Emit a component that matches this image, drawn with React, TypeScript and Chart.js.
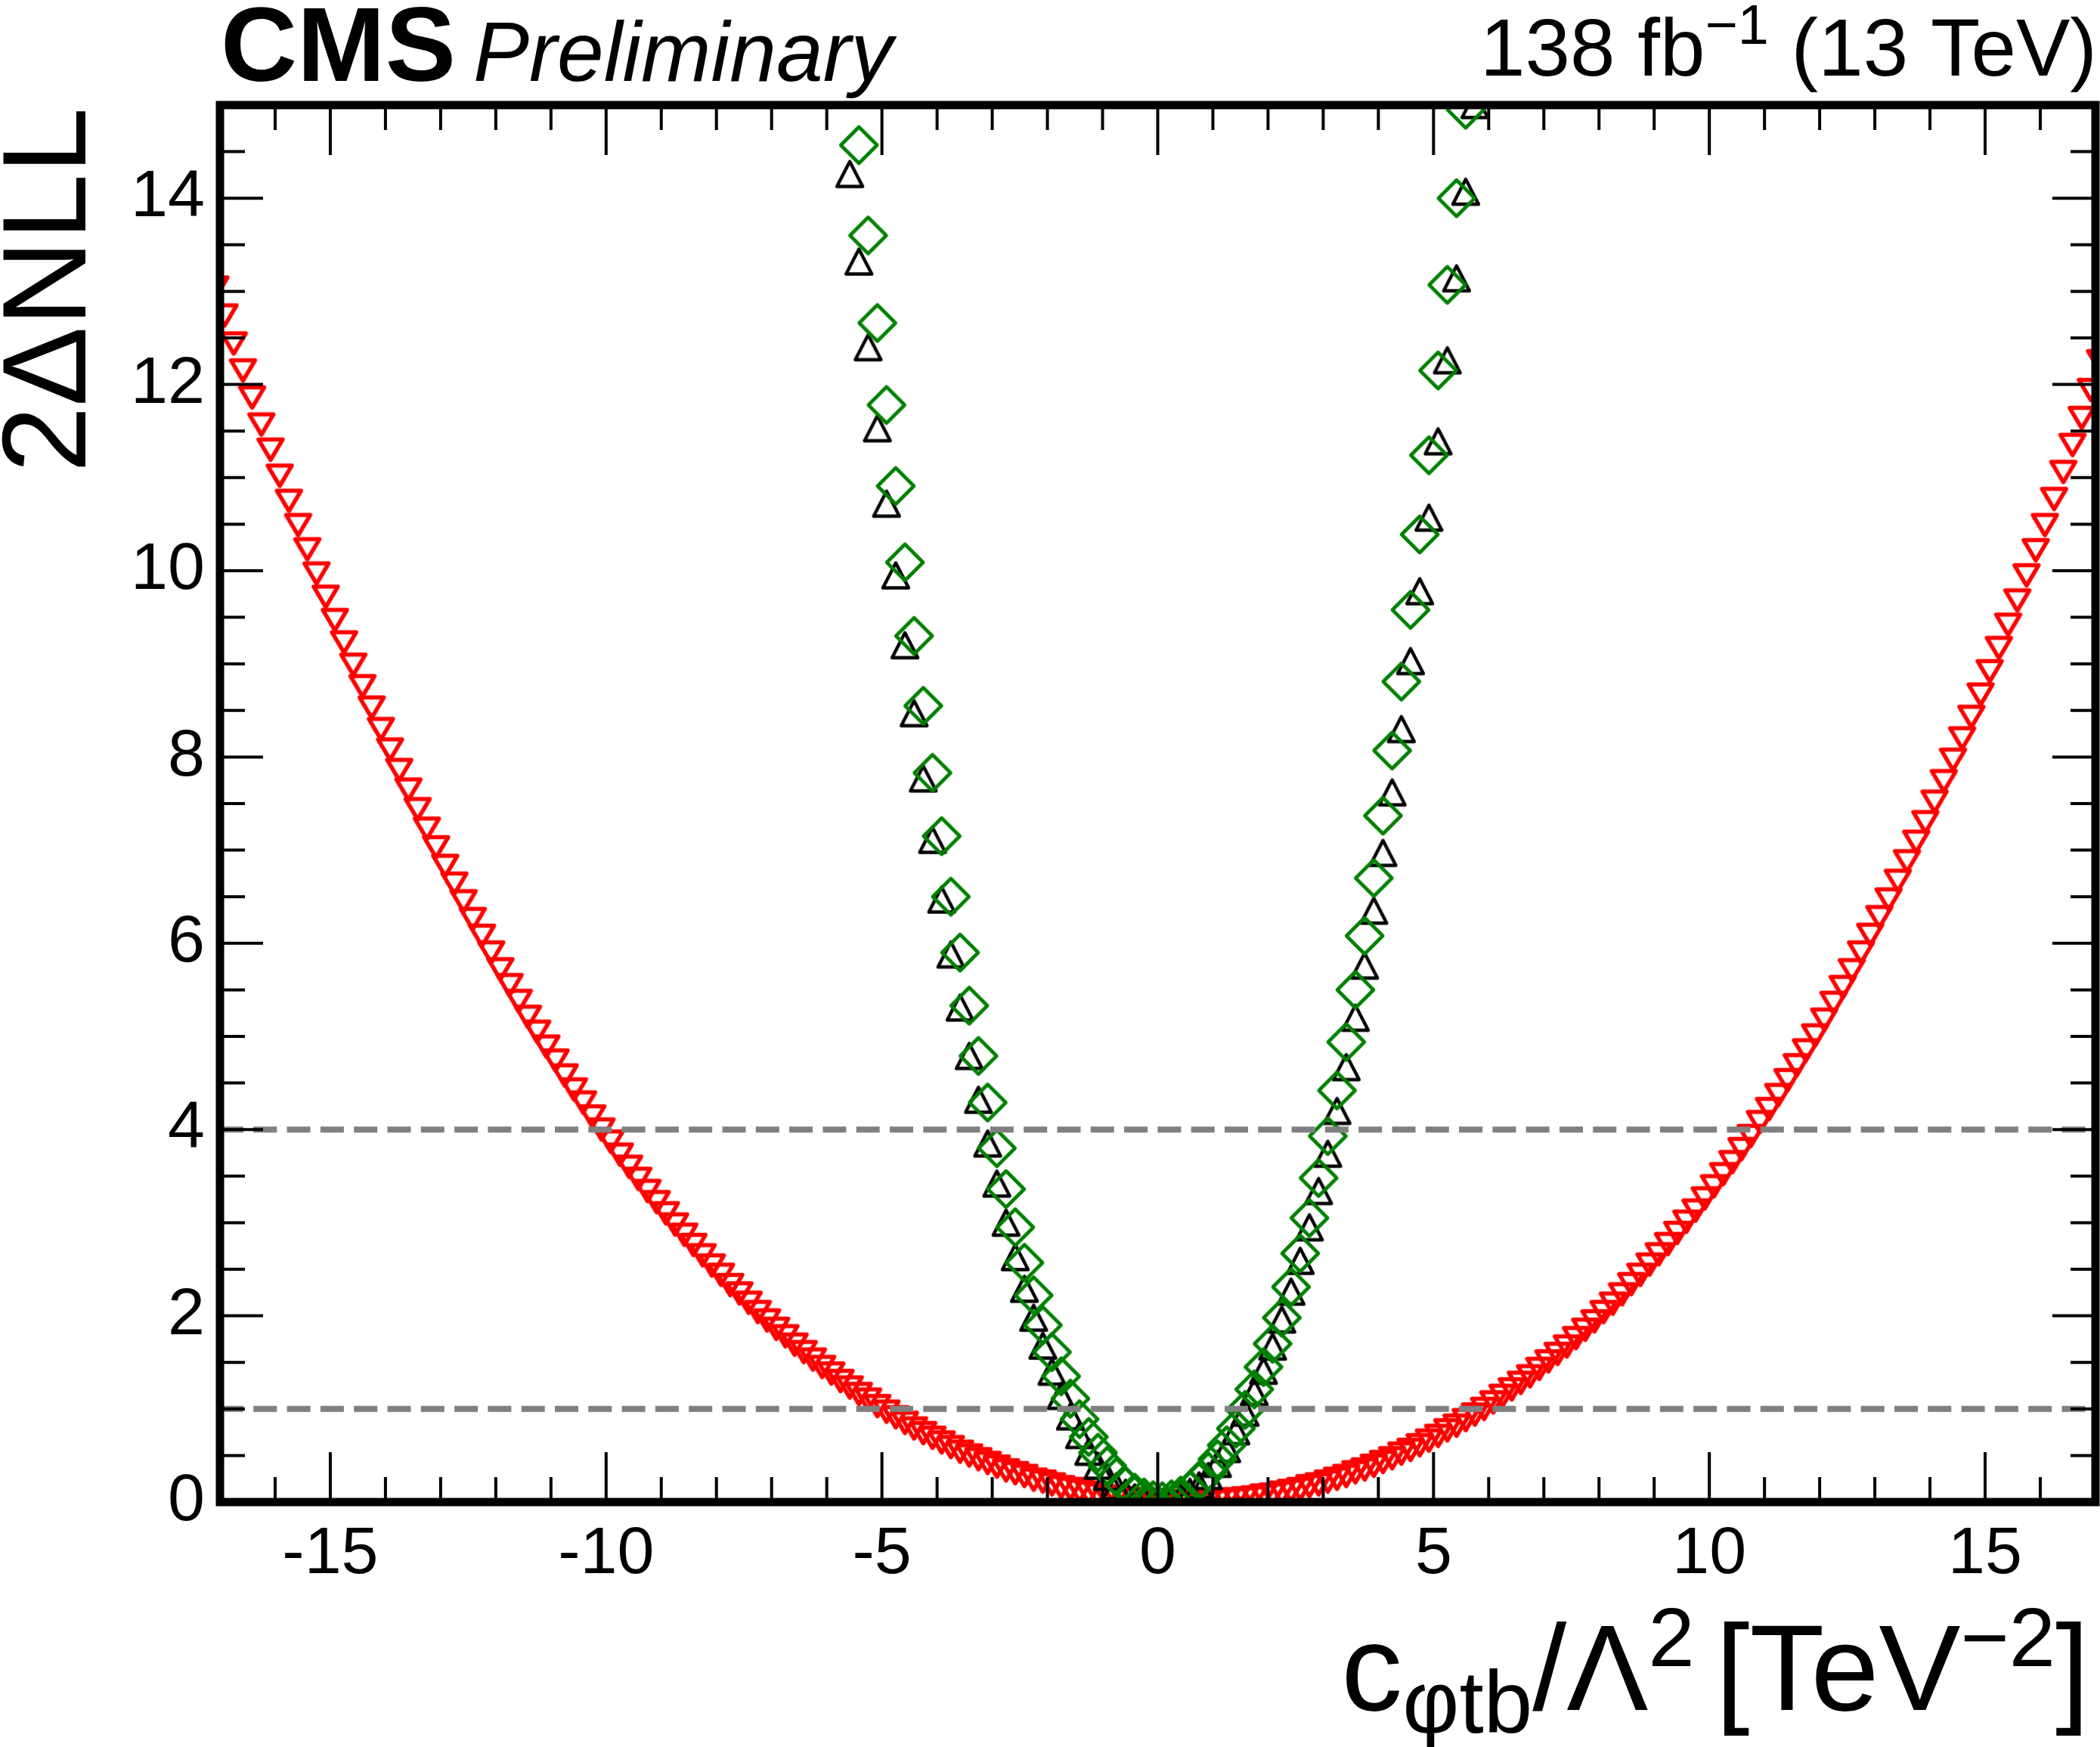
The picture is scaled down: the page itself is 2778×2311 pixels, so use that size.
import React, { useEffect, useRef } from "react";
import { Chart, registerables } from "chart.js";

Chart.register(...registerables);

const FONT = "'Liberation Sans', Arial, Helvetica, sans-serif";

// scan points (x, in TeV^-2) for the wide (red) scan
const X_GRID = [
  -17.083,
  -16.917, -16.75, -16.583, -16.417, -16.25, -16.083,
  -15.917, -15.75, -15.583, -15.417, -15.25, -15.083,
  -14.917, -14.75, -14.583, -14.417, -14.25, -14.083,
  -13.917, -13.75, -13.583, -13.417, -13.25, -13.083,
  -12.917, -12.75, -12.583, -12.417, -12.25, -12.083,
  -11.917, -11.75, -11.583, -11.417, -11.25, -11.083,
  -10.917, -10.75, -10.583, -10.417, -10.25, -10.083,
  -9.917, -9.75, -9.583, -9.417, -9.25, -9.083,
  -8.917, -8.75, -8.583, -8.417, -8.25, -8.083,
  -7.917, -7.75, -7.583, -7.417, -7.25, -7.083,
  -6.917, -6.75, -6.583, -6.417, -6.25, -6.083,
  -5.917, -5.75, -5.583, -5.417, -5.25, -5.083,
  -4.917, -4.75, -4.583, -4.417, -4.25, -4.083,
  -3.917, -3.75, -3.583, -3.417, -3.25, -3.083,
  -2.917, -2.75, -2.583, -2.417, -2.25, -2.083,
  -1.917, -1.75, -1.583, -1.417, -1.25, -1.083,
  -0.917, -0.75, -0.583, -0.417, -0.25, -0.083,
  0.083, 0.25, 0.417, 0.583, 0.75, 0.917,
  1.083, 1.25, 1.417, 1.583, 1.75, 1.917,
  2.083, 2.25, 2.417, 2.583, 2.75, 2.917,
  3.083, 3.25, 3.417, 3.583, 3.75, 3.917,
  4.083, 4.25, 4.417, 4.583, 4.75, 4.917,
  5.083, 5.25, 5.417, 5.583, 5.75, 5.917,
  6.083, 6.25, 6.417, 6.583, 6.75, 6.917,
  7.083, 7.25, 7.417, 7.583, 7.75, 7.917,
  8.083, 8.25, 8.417, 8.583, 8.75, 8.917,
  9.083, 9.25, 9.417, 9.583, 9.75, 9.917,
  10.083, 10.25, 10.417, 10.583, 10.75, 10.917,
  11.083, 11.25, 11.417, 11.583, 11.75, 11.917,
  12.083, 12.25, 12.417, 12.583, 12.75, 12.917,
  13.083, 13.25, 13.417, 13.583, 13.75, 13.917,
  14.083, 14.25, 14.417, 14.583, 14.75, 14.917,
  15.083, 15.25, 15.417, 15.583, 15.75, 15.917,
  16.083, 16.25, 16.417, 16.583, 16.75, 16.917,
  17.083,
];

// 2ΔNLL, red (downward triangles)
const RED_Y = [
  13.04, 12.74, 12.44, 12.15, 11.86, 11.57, 11.30, 11.02, 10.75, 10.49,
  10.23, 9.97, 9.72, 9.47, 9.23, 8.99, 8.76, 8.53, 8.30, 8.08,
  7.86, 7.65, 7.44, 7.23, 7.03, 6.83, 6.64, 6.45, 6.26, 6.08,
  5.90, 5.72, 5.55, 5.38, 5.21, 5.05, 4.89, 4.74, 4.58, 4.43,
  4.29, 4.14, 4.00, 3.87, 3.73, 3.60, 3.47, 3.34, 3.22, 3.10,
  2.98, 2.87, 2.76, 2.65, 2.54, 2.44, 2.33, 2.24, 2.14, 2.04,
  1.95, 1.86, 1.78, 1.69, 1.61, 1.53, 1.45, 1.38, 1.30, 1.23,
  1.16, 1.10, 1.03, 0.97, 0.91, 0.85, 0.79, 0.74, 0.69, 0.64,
  0.59, 0.54, 0.50, 0.46, 0.42, 0.38, 0.34, 0.31, 0.28, 0.24,
  0.22, 0.19, 0.16, 0.14, 0.12, 0.10, 0.08, 0.06, 0.05, 0.04,
  0.03, 0.02, 0.01, 0.01, 0.00, 0.00,
  0.00, 0.00, 0.01, 0.01, 0.02, 0.03, 0.04, 0.05, 0.07, 0.08,
  0.10, 0.12, 0.14, 0.17, 0.19, 0.22, 0.25, 0.28, 0.32, 0.35,
  0.39, 0.43, 0.47, 0.52, 0.56, 0.61, 0.66, 0.71, 0.77, 0.82,
  0.88, 0.94, 1.00, 1.07, 1.14, 1.21, 1.28, 1.35, 1.43, 1.51,
  1.59, 1.67, 1.76, 1.85, 1.94, 2.04, 2.13, 2.23, 2.34, 2.44,
  2.55, 2.66, 2.77, 2.89, 3.01, 3.13, 3.26, 3.39, 3.52, 3.65,
  3.79, 3.93, 4.08, 4.22, 4.37, 4.53, 4.69, 4.85, 5.01, 5.18,
  5.36, 5.53, 5.71, 5.90, 6.09, 6.28, 6.47, 6.67, 6.88, 7.09,
  7.30, 7.52, 7.74, 7.97, 8.20, 8.43, 8.67, 8.92, 9.17, 9.42,
  9.68, 9.95, 10.22, 10.49, 10.77, 11.06, 11.35, 11.64, 11.94, 12.25,
];

// scan points of the narrow scans (black, green)
const CORE_X = [
  -5.75, -5.583, -5.417, -5.25, -5.083, -4.917, -4.75, -4.583, -4.417, -4.25,
  -4.083, -3.917, -3.75, -3.583, -3.417, -3.25, -3.083, -2.917, -2.75, -2.583,
  -2.417, -2.25, -2.083, -1.917, -1.75, -1.583, -1.417, -1.25, -1.083, -0.917,
  -0.75, -0.583, -0.417, -0.25, -0.083,
  0.083, 0.25, 0.417, 0.583, 0.75, 0.917, 1.083, 1.25, 1.417, 1.583,
  1.75, 1.917, 2.083, 2.25, 2.417, 2.583, 2.75, 2.917, 3.083, 3.25,
  3.417, 3.583, 3.75, 3.917, 4.083, 4.25, 4.417, 4.583, 4.75, 4.917,
  5.083, 5.25, 5.417, 5.583, 5.75,
];

// 2ΔNLL, black (upward triangles)
const BLACK_Y = [
  15.2, 14.26, 13.32, 12.40, 11.53, 10.72, 9.95, 9.20, 8.47, 7.77,
  7.11, 6.47, 5.88, 5.31, 4.79, 4.32, 3.85, 3.42, 3.00, 2.63,
  2.29, 1.98, 1.68, 1.40, 1.14, 0.92, 0.72, 0.54, 0.39, 0.27,
  0.17, 0.10, 0.05, 0.02, 0.00,
  0.00, 0.02, 0.05, 0.11, 0.18, 0.28, 0.41, 0.57, 0.76, 0.96,
  1.18, 1.41, 1.67, 1.96, 2.26, 2.59, 2.95, 3.34, 3.74, 4.20,
  4.67, 5.20, 5.76, 6.35, 6.97, 7.62, 8.30, 9.03, 9.78, 10.57,
  11.39, 12.26, 13.14, 14.07, 15.00,
];

// 2ΔNLL, green (open diamonds)
const GREEN_Y = [
  16.6, 15.55, 14.57, 13.60, 12.66, 11.78, 10.91, 10.09, 9.30, 8.55,
  7.83, 7.15, 6.50, 5.90, 5.33, 4.79, 4.29, 3.80, 3.36, 2.95,
  2.57, 2.22, 1.90, 1.61, 1.35, 1.11, 0.89, 0.70, 0.53, 0.39,
  0.27, 0.17, 0.10, 0.05, 0.02,
  0.01, 0.03, 0.07, 0.13, 0.22, 0.33, 0.46, 0.61, 0.79, 0.99,
  1.21, 1.45, 1.70, 1.98, 2.31, 2.67, 3.05, 3.48, 3.93, 4.42,
  4.94, 5.50, 6.08, 6.70, 7.37, 8.07, 8.81, 9.58, 10.39, 11.24,
  12.15, 13.07, 14.00, 14.95, 15.9,
];

const X_MAJOR = [-15, -10, -5, 0, 5, 10, 15];
const X_MINOR = [
  -17, -16, -14, -13, -12, -11, -9, -8, -7, -6, -4, -3, -2, -1,
  1, 2, 3, 4, 6, 7, 8, 9, 11, 12, 13, 14, 16, 17,
];
const Y_MAJOR = [0, 2, 4, 6, 8, 10, 12, 14];
const Y_MINOR = [
  0.5, 1, 1.5, 2.5, 3, 3.5, 4.5, 5, 5.5, 6.5, 7, 7.5, 8.5, 9, 9.5,
  10.5, 11, 11.5, 12.5, 13, 13.5, 14.5,
];
const REF_LINES = [1, 4];

function makeMarker(kind: string, color: string, lw: number) {
  const c = document.createElement("canvas");
  c.width = 64;
  c.height = 64;
  const g = c.getContext("2d")!;
  g.strokeStyle = color;
  g.lineWidth = lw;
  g.lineJoin = "round";
  g.beginPath();
  const m = 32;
  if (kind === "down") {
    g.moveTo(m - 16, m - 13.5);
    g.lineTo(m + 16, m - 13.5);
    g.lineTo(m, m + 13.5);
  } else if (kind === "up") {
    g.moveTo(m - 17, m + 16.5);
    g.lineTo(m + 17, m + 16.5);
    g.lineTo(m, m - 16.5);
  } else {
    g.moveTo(m, m - 24);
    g.lineTo(m + 24, m);
    g.lineTo(m, m + 24);
    g.lineTo(m - 24, m);
  }
  g.closePath();
  g.stroke();
  return c;
}

type Piece = { t: string; size: number; dy?: number; style?: string };

function drawRich(ctx: CanvasRenderingContext2D, pieces: Piece[], xRight: number, baseline: number) {
  const f = (p: Piece) => `${p.style ? p.style + " " : ""}${p.size}px ${FONT}`;
  let total = 0;
  for (const p of pieces) {
    ctx.font = f(p);
    total += ctx.measureText(p.t).width;
  }
  let x = xRight - total;
  ctx.textAlign = "left";
  ctx.textBaseline = "alphabetic";
  for (const p of pieces) {
    ctx.font = f(p);
    ctx.fillText(p.t, x, baseline + (p.dy || 0));
    x += ctx.measureText(p.t).width;
  }
}

const rootStyle = {
  id: "rootStyle",
  beforeDraw(chart: any) {
    const ctx = chart.ctx as CanvasRenderingContext2D;
    ctx.save();
    ctx.fillStyle = "#ffffff";
    ctx.fillRect(0, 0, chart.width, chart.height);
    ctx.restore();
  },
  afterDatasetsDraw(chart: any) {
    const ctx = chart.ctx as CanvasRenderingContext2D;
    const { left, right, top, bottom } = chart.chartArea;
    const xs = chart.scales.x;
    const ys = chart.scales.y;
    ctx.save();
    // reference lines
    ctx.strokeStyle = "#808080";
    ctx.lineWidth = 8;
    ctx.setLineDash([31, 13.3]);
    for (const v of REF_LINES) {
      const y = ys.getPixelForValue(v);
      ctx.beginPath();
      ctx.moveTo(left, y);
      ctx.lineTo(right, y);
      ctx.stroke();
    }
    ctx.setLineDash([]);
    // ticks
    ctx.strokeStyle = "#000";
    ctx.lineWidth = 4;
    const xt = (vals: number[], len: number) => {
      for (const v of vals) {
        const x = xs.getPixelForValue(v);
        ctx.beginPath();
        ctx.moveTo(x, bottom);
        ctx.lineTo(x, bottom - len);
        ctx.moveTo(x, top);
        ctx.lineTo(x, top + len);
        ctx.stroke();
      }
    };
    const yt = (vals: number[], len: number) => {
      for (const v of vals) {
        const y = ys.getPixelForValue(v);
        ctx.beginPath();
        ctx.moveTo(left, y);
        ctx.lineTo(left + len, y);
        ctx.moveTo(right, y);
        ctx.lineTo(right - len, y);
        ctx.stroke();
      }
    };
    xt(X_MAJOR, 66);
    xt(X_MINOR, 33);
    yt(Y_MAJOR, 57);
    yt(Y_MINOR, 33);
    // frame
    ctx.lineWidth = 11;
    ctx.strokeRect(left, top, right - left, bottom - top);
    ctx.restore();
  },
  afterDraw(chart: any) {
    const ctx = chart.ctx as CanvasRenderingContext2D;
    ctx.save();
    ctx.fillStyle = "#000";
    ctx.textAlign = "left";
    ctx.textBaseline = "alphabetic";
    ctx.font = `bold 140px ${FONT}`;
    ctx.fillText("CMS", 292, 107);
    ctx.font = `italic 111px ${FONT}`;
    ctx.fillText("Preliminary", 626, 107);
    drawRich(
      ctx,
      [
        { t: "138 fb", size: 107 },
        { t: "\u22121", size: 74, dy: -42 },
        { t: " (13 TeV)", size: 107 },
      ],
      2774,
      100
    );
    drawRich(
      ctx,
      [
        { t: "c", size: 162 },
        { t: "\u03c6tb", size: 116, dy: 30 },
        { t: "/\u039b", size: 162 },
        { t: "2", size: 110, dy: -58 },
        { t: " ", size: 100 },
        { t: "[TeV", size: 162 },
        { t: "\u22122", size: 110, dy: -58 },
        { t: "]", size: 162 },
      ],
      2764,
      2262
    );
    ctx.translate(113, 142);
    ctx.rotate(-Math.PI / 2);
    ctx.font = `158px ${FONT}`;
    ctx.textAlign = "right";
    ctx.fillText("2\u0394NLL", 0, 0);
    ctx.restore();
  },
};

export default function App() {
  const ref = useRef<HTMLCanvasElement>(null);
  useEffect(() => {
    document.body.style.margin = "0";
    const canvas = ref.current!;
    const red = makeMarker("down", "#ff0000", 5.4);
    const black = makeMarker("up", "#000000", 4.4);
    const green = makeMarker("diamond", "#008000", 4.6);
    const pts = (xs: number[], ys: number[]) => xs.map((x, i) => ({ x, y: ys[i] }));
    const common = {
      showLine: false,
      pointRadius: 26,
      pointHoverRadius: 26,
      pointBorderWidth: 0,
      clip: 0,
    };
    const chart = new Chart(canvas, {
      type: "scatter",
      data: {
        datasets: [
          { ...common, label: "green", data: pts(CORE_X, GREEN_Y), pointStyle: green as any },
          { ...common, label: "black", data: pts(CORE_X, BLACK_Y), pointStyle: black as any },
          { ...common, label: "red", data: pts(X_GRID, RED_Y), pointStyle: red as any },
        ],
      } as any,
      options: {
        animation: false,
        responsive: false,
        devicePixelRatio: 1,
        events: [],
        layout: { autoPadding: false, padding: { left: 0, right: 6, top: 139, bottom: 0 } },
        plugins: { legend: { display: false }, tooltip: { enabled: false }, title: { display: false } },
        scales: {
          x: {
            type: "linear",
            position: "bottom",
            min: -17,
            max: 17,
            grid: { display: false, drawTicks: false },
            border: { display: false },
            ticks: {
              color: "#000",
              font: { family: FONT, size: 88 },
              padding: 17,
              maxRotation: 0,
              autoSkip: false,
            },
            afterBuildTicks: (s: any) => {
              s.ticks = X_MAJOR.map((v) => ({ value: v }));
            },
            afterFit: (s: any) => {
              s.height = 324;
            },
          },
          y: {
            type: "linear",
            position: "left",
            min: 0,
            max: 15,
            grid: { display: false, drawTicks: false },
            border: { display: false },
            ticks: {
              color: "#000",
              font: { family: FONT, size: 88 },
              padding: 20,
              autoSkip: false,
            },
            afterBuildTicks: (s: any) => {
              s.ticks = Y_MAJOR.map((v) => ({ value: v }));
            },
            afterFit: (s: any) => {
              s.width = 291;
            },
          },
        },
      } as any,
      plugins: [rootStyle as any],
    });
    return () => chart.destroy();
  }, []);
  return (
    <div style={{ width: 2778, height: 2311 }}>
      <canvas ref={ref} width={2778} height={2311} style={{ display: "block", width: 2778, height: 2311 }} />
    </div>
  );
}
